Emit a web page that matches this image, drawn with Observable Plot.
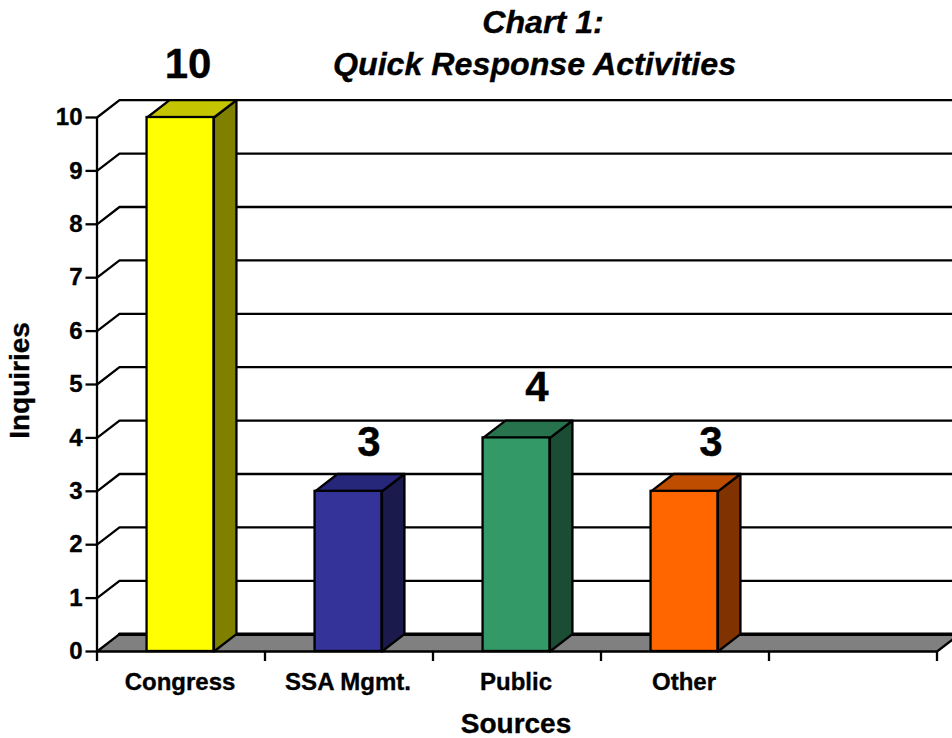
<!DOCTYPE html>
<html>
<head>
<meta charset="utf-8">
<script src="https://cdn.jsdelivr.net/npm/d3@7"></script>
<script src="https://cdn.jsdelivr.net/npm/@observablehq/plot@0.6"></script>
<style>
html,body{margin:0;padding:0;background:#fff;}
svg{display:block;}
svg text{stroke:#000;stroke-width:.35px;}
</style>
</head>
<body>
<div id="chart"></div>
<script>
const categories = ["Congress", "SSA Mgmt.", "Public", "Other"];
const values = [10, 3, 4, 3];
const frontColors = ["#FFFF00", "#333399", "#339966", "#FF6600"];
const topColors = ["#C4C400", "#26267A", "#26734D", "#BF4D00"];
const sideColors = ["#808000", "#1A1A4D", "#1A4D33", "#803300"];
const yTicks = [0, 1, 2, 3, 4, 5, 6, 7, 8, 9, 10];
const xTicks = [0, 1, 2, 3, 4, 5];
const titleLines = ["Chart 1:", "Quick Response Activities"];
const xTitle = "Sources";
const yTitle = "Inquiries";

// Oblique projection of the pseudo-3D box, in data units.
const depthX = 0.134, depthY = 0.324;
const barStart = 0.298, barWidth = 0.398;
const xMax = xTicks[xTicks.length - 1];
const labelShift = [7, 20, 20, 26];
const labelLift = [-36, -31, -33.5, -31];

const bars = values.map((v, i) => ({
  i, v, x1: i + barStart, x2: i + barStart + barWidth
}));
const poly = (id, color, pts) => pts.map(([x, y]) => ({id, color, x, y}));
const faces = bars.flatMap(b => [
  ...poly("side" + b.i, sideColors[b.i], [[b.x2, 0], [b.x2 + depthX, depthY], [b.x2 + depthX, b.v + depthY], [b.x2, b.v], [b.x2, 0]]),
  ...poly("top" + b.i, topColors[b.i], [[b.x1, b.v], [b.x1 + depthX, b.v + depthY], [b.x2 + depthX, b.v + depthY], [b.x2, b.v], [b.x1, b.v]])
]);
const floor = poly("floor", "#808080", [[0, 0], [xMax, 0], [xMax + depthX, depthY], [depthX, depthY], [0, 0]]);
const wall = yTicks.slice(1).flatMap(v => poly("g" + v, "none", [[0, v], [depthX, v + depthY], [xMax + depthX, v + depthY]]));

const black = "#000";
const lw = 2.3;
const chart = Plot.plot({
  width: 952,
  height: 738,
  marginLeft: 96.5,
  marginRight: 15.5,
  marginTop: 117,
  marginBottom: 87,
  style: {fontFamily: "'Liberation Sans', Arial, sans-serif", fontWeight: "bold", background: "#fff", color: black},
  x: {type: "linear", domain: [0, xMax], axis: null},
  y: {type: "linear", domain: [0, 10], axis: null},
  marks: [
    Plot.line(wall, {x: "x", y: "y", z: "id", stroke: black, strokeWidth: lw, curve: "linear"}),
    Plot.line(floor, {x: "x", y: "y", z: "id", fill: "#808080", stroke: black, strokeWidth: lw, curve: "linear"}),
    Plot.line(floor.slice(2, 4), {x: "x", y: "y", stroke: black, strokeWidth: 3.5}),
    Plot.axisY({anchor: "left", ticks: yTicks, tickSize: 11, tickPadding: 3.5, fontSize: 24, strokeWidth: lw, strokeOpacity: 1, label: null, color: black}),
    Plot.ruleX([0], {y1: 0, y2: 10, stroke: black, strokeWidth: lw}),
    Plot.axisX({anchor: "bottom", ticks: xTicks, tickSize: 10, tickFormat: () => "", strokeWidth: lw, strokeOpacity: 1, label: null}),
    Plot.axisX({anchor: "bottom", ticks: categories.map((_, i) => i + 0.5), tickSize: 0, tickPadding: 21, dx: -1, fontSize: 24, tickFormat: d => categories[d - 0.5], label: null, color: black}),
    Plot.line(faces, {x: "x", y: "y", z: "id", fill: "color", stroke: black, strokeWidth: lw, curve: "linear"}),
    Plot.rect(bars, {x1: "x1", x2: "x2", y1: 0, y2: "v", fill: (d) => frontColors[d.i], stroke: black, strokeWidth: lw}),
    ...bars.map(b => Plot.text([b], {x: d => d.i + 0.5, y: d => d.v + depthY, text: d => String(d.v), dx: labelShift[b.i], dy: labelLift[b.i], fontSize: 42, fill: black})),
    Plot.text([titleLines[0]], {frameAnchor: "top", dx: 26, dy: -95, fontSize: 32.2, fontStyle: "italic", fill: black, lineAnchor: "middle"}),
    Plot.text([titleLines[1]], {frameAnchor: "top", dx: 17.5, dy: -53, fontSize: 32.2, fontStyle: "italic", fill: black, lineAnchor: "middle"}),
    Plot.text([xTitle], {frameAnchor: "bottom", dx: -1, dy: 73, fontSize: 28, fill: black, lineAnchor: "middle"}),
    Plot.text([yTitle], {frameAnchor: "left", dx: -77, dy: -4, rotate: -90, textAnchor: "middle", fontSize: 28, fill: black})
  ]
});
document.getElementById("chart").append(chart);
</script>
</body>
</html>
